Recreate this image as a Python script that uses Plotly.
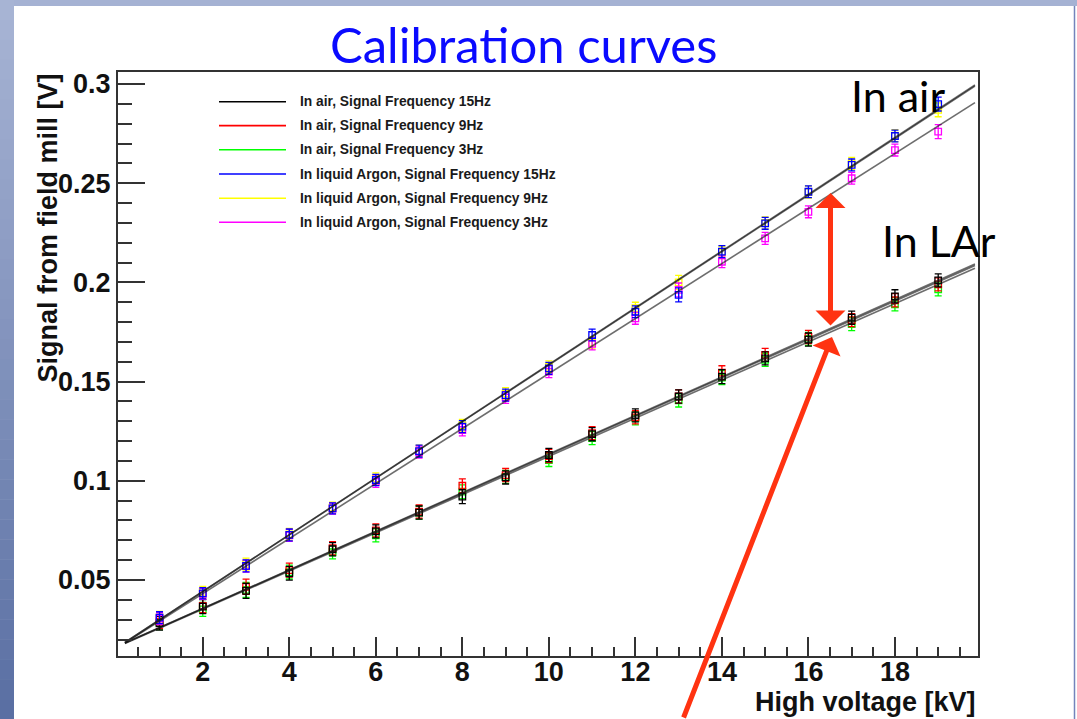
import plotly.graph_objects as go

# ---------------- data ----------------
voltage_kv = [1, 2, 3, 4, 5, 6, 7, 8, 9, 10, 11, 12, 13, 14, 15, 16, 17, 18, 19]

air_15hz = [0.0282, 0.0366, 0.0445, 0.0534, 0.0655, 0.0745, 0.0840, 0.0920, 0.1017, 0.1130,
            0.1235, 0.1330, 0.1425, 0.1525, 0.1617, 0.1712, 0.1822, 0.1930, 0.2010]
air_9hz = [0.0290, 0.0370, 0.0466, 0.0550, 0.0660, 0.0750, 0.0845, 0.0975, 0.1029, 0.1125,
           0.1240, 0.1320, 0.1425, 0.1545, 0.1635, 0.1725, 0.1810, 0.1910, 0.1990]
air_3hz = [0.0285, 0.0352, 0.0450, 0.0540, 0.0640, 0.0725, 0.0840, 0.0945, 0.1020, 0.1105,
           0.1215, 0.1315, 0.1405, 0.1520, 0.1610, 0.1715, 0.1790, 0.1890, 0.1965]
lar_15hz = [0.0310, 0.0433, 0.0571, 0.0727, 0.0861, 0.1004, 0.1150, 0.1273, 0.1432, 0.1567,
            0.1735, 0.1852, 0.1937, 0.2155, 0.2298, 0.2457, 0.2592, 0.2738, 0.2899]
lar_9hz = [0.0312, 0.0440, 0.0580, 0.0730, 0.0865, 0.1012, 0.1150, 0.1280, 0.1440, 0.1575,
           0.1695, 0.1870, 0.2000, 0.2150, 0.2300, 0.2455, 0.2600, 0.2740, 0.2870]
lar_3hz = [0.0305, 0.0430, 0.0570, 0.0725, 0.0860, 0.0995, 0.1145, 0.1256, 0.1420, 0.1550,
           0.1690, 0.1819, 0.1962, 0.2104, 0.2222, 0.2356, 0.2525, 0.2667, 0.2760]

air_err = [0.0035, 0.0035, 0.0038, 0.0035, 0.0033, 0.0033, 0.0033, 0.0035, 0.0033, 0.0033,
           0.0033, 0.0033, 0.0033, 0.0035, 0.0033, 0.0033, 0.0033, 0.0033, 0.0033]
lar_err = [0.0030, 0.0028, 0.0030, 0.0030, 0.0028, 0.0028, 0.0030, 0.0030, 0.0030, 0.0030,
           0.0030, 0.0030, 0.0035, 0.0030, 0.0030, 0.0030, 0.0030, 0.0030, 0.0035]

# straight-line fits: value at the start and end of the fit range
fit_x = [0.2, 19.85]
fit_air_15hz = [0.0182, 0.2093]
fit_air_9hz = [0.0182, 0.2085]
fit_air_3hz = [0.0180, 0.2071]
fit_lar_15hz = [0.0185, 0.2995]
fit_lar_9hz = [0.0185, 0.2990]
fit_lar_3hz = [0.0182, 0.2906]

legend_labels = [
    "In air, Signal Frequency 15Hz",
    "In air, Signal Frequency 9Hz",
    "In air, Signal Frequency 3Hz",
    "In liquid Argon, Signal Frequency 15Hz",
    "In liquid Argon, Signal Frequency 9Hz",
    "In liquid Argon, Signal Frequency 3Hz",
]
series_colors = ["#000000", "#FF0000", "#00FF00", "#0000FF", "#FFFF00", "#FF00FF"]

x_ticks = [2, 4, 6, 8, 10, 12, 14, 16, 18]
y_ticks = [0.05, 0.1, 0.15, 0.2, 0.25, 0.3]

# ---------------- geometry ----------------
W, H = 1077, 719
PL, PR, PT, PB = 118, 978, 72, 656  # frame edges in pixels


def px(x):
    return (x - PL) / (PR - PL)


def py(y):
    return (PB - y) / (PB - PT)


ROOT_FONT = "Liberation Sans"

fig = go.Figure()

values = [air_15hz, air_9hz, air_3hz, lar_15hz, lar_9hz, lar_3hz]
errors = [air_err, air_err, air_err, lar_err, lar_err, lar_err]
fits = [fit_air_15hz, fit_air_9hz, fit_air_3hz, fit_lar_15hz, fit_lar_9hz, fit_lar_3hz]

# drawing order: lower-frequency sets underneath
for i in [2, 1, 0, 4, 5, 3]:
    fig.add_trace(go.Scatter(
        x=voltage_kv, y=values[i], mode="markers", name=legend_labels[i],
        marker=dict(symbol="square-open", size=6.5, color=series_colors[i],
                    line=dict(width=1.3, color=series_colors[i])),
        error_y=dict(type="data", array=errors[i], color=series_colors[i],
                     thickness=1.3, width=3.5),
        showlegend=False,
    ))

for i in range(6):
    fig.add_trace(go.Scatter(
        x=fit_x, y=fits[i], mode="lines",
        line=dict(color="rgba(20,20,20,0.62)", width=1.6),
        showlegend=False, hoverinfo="skip",
    ))

shapes = []
annotations = []

# slide background: top band, left gradient band, right rule
shapes.append(dict(type="rect", xref="paper", yref="paper", layer="below",
                   x0=px(0), x1=px(W), y0=py(0), y1=py(6),
                   fillcolor="#a5b2d3", line=dict(width=0)))
top_rgb = (167, 180, 212)
bot_rgb = (90, 111, 163)
n_bands = 36
for k in range(n_bands):
    t = k / (n_bands - 1)
    c = tuple(round(a + (b - a) * t) for a, b in zip(top_rgb, bot_rgb))
    y0 = k * H / n_bands
    y1 = (k + 1) * H / n_bands + 0.5
    shapes.append(dict(type="rect", xref="paper", yref="paper", layer="below",
                       x0=px(0), x1=px(14), y0=py(y0), y1=py(y1),
                       fillcolor="rgb(%d,%d,%d)" % c, line=dict(width=0)))
shapes.append(dict(type="line", xref="paper", yref="paper", layer="below",
                   x0=px(1074.5), x1=px(1074.5), y0=py(6), y1=py(H),
                   line=dict(color="#7384bb", width=1.5)))

# legend
legend_rows = [101.7, 125.6, 149.8, 174.0, 198.2, 222.3]
for i, (label, row_y) in enumerate(zip(legend_labels, legend_rows)):
    shapes.append(dict(type="line", xref="paper", yref="paper",
                       x0=px(219), x1=px(286), y0=py(row_y), y1=py(row_y),
                       line=dict(color=series_colors[i], width=1.6)))
    annotations.append(dict(text=label, xref="paper", yref="paper",
                            x=px(298), y=py(row_y), xanchor="left", yanchor="middle",
                            showarrow=False,
                            font=dict(family=ROOT_FONT, size=13.8, color="#1a1a1a",
                                      weight="bold")))

# axis titles
annotations.append(dict(text="High voltage [kV]", xref="paper", yref="paper",
                        x=1.0, y=py(702), xanchor="right", yanchor="middle",
                        showarrow=False,
                        font=dict(family=ROOT_FONT, size=27, color="#111", weight="bold")))
annotations.append(dict(text="Signal from field mill [V]", xref="paper", yref="paper",
                        x=px(47), y=1.0, xanchor="center", yanchor="top", textangle=-90,
                        showarrow=False,
                        font=dict(family=ROOT_FONT, size=27, color="#111", weight="bold")))

# slide title and labels
annotations.append(dict(text="Calibration curves", xref="paper", yref="paper",
                        x=px(523), y=py(44), xanchor="center", yanchor="middle",
                        showarrow=False,
                        font=dict(family="Lato", size=49, color="#0a0aff")))
annotations.append(dict(text="In air", xref="paper", yref="paper",
                        x=px(849), y=py(95), xanchor="left", yanchor="middle",
                        showarrow=False,
                        font=dict(family="Lato", size=43, color="#000")))
annotations.append(dict(text="In LAr", xref="paper", yref="paper",
                        x=px(880), y=py(240), xanchor="left", yanchor="middle",
                        showarrow=False,
                        font=dict(family="Lato", size=43, color="#000")))

# red arrows
ARROW_RED = "rgb(255,51,17)"
annotations.append(dict(xref="paper", yref="paper", x=px(830.5), y=py(193),
                        ax=0, ay=327 - 193, axref="pixel", ayref="pixel",
                        showarrow=True, arrowside="end+start",
                        arrowhead=1, startarrowhead=1, arrowsize=1.0, startarrowsize=1.0,
                        arrowwidth=5, arrowcolor=ARROW_RED, standoff=0, startstandoff=0,
                        text=""))
annotations.append(dict(xref="paper", yref="paper", x=px(832), y=py(337),
                        ax=683 - 832, ay=725 - 337, axref="pixel", ayref="pixel",
                        showarrow=True, arrowhead=1, arrowsize=1.0,
                        arrowwidth=5, arrowcolor=ARROW_RED, standoff=0,
                        text=""))

axis_common = dict(
    showline=True, linecolor="#333", linewidth=2, mirror=True,
    ticks="inside", tickcolor="#333", tickwidth=1.5,
    showgrid=False, zeroline=False,
    tickfont=dict(family=ROOT_FONT, size=27, color="#111", weight="bold"),
)

fig.update_layout(
    width=W, height=H,
    margin=dict(l=PL, r=W - PR, t=PT, b=H - PB, pad=0),
    paper_bgcolor="white", plot_bgcolor="white",
    showlegend=False,
    shapes=shapes, annotations=annotations,
    xaxis=dict(range=[0.04, 19.92], tickmode="array", tickvals=x_ticks, ticklen=19,
               ticklabelstandoff=-9,
               minor=dict(dtick=0.5, tick0=0, ticklen=9, ticks="inside",
                          tickcolor="#333", tickwidth=1.5),
               **axis_common),
    yaxis=dict(range=[0.0117, 0.30605], tickmode="array", tickvals=y_ticks, ticklen=27,
               minor=dict(dtick=0.01, tick0=0, ticklen=14, ticks="inside",
                          tickcolor="#333", tickwidth=1.5),
               **axis_common),
)

fig.write_html("out.html")
